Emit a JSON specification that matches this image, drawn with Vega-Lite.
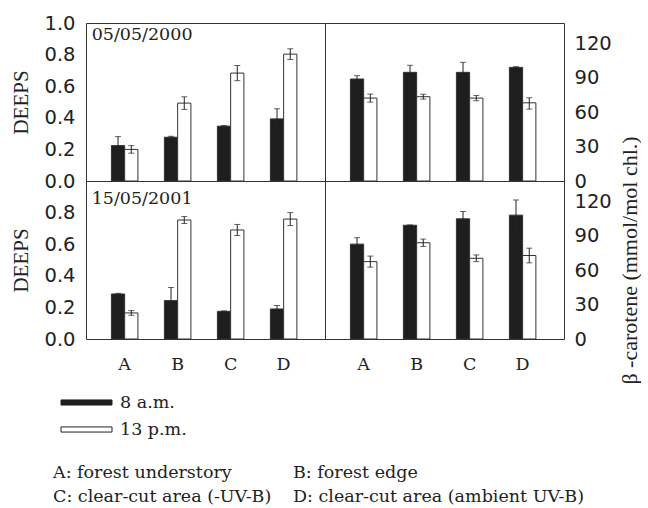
{
  "$schema": "https://vega.github.io/schema/vega-lite/v6.json",
  "padding": {"left": 10, "top": 12, "right": 0, "bottom": 0},
  "background": "white",
  "config": {
    "view": {"stroke": "#333", "strokeWidth": 1},
    "axis": {"grid": false, "domain": false, "ticks": false, "labelOverlap": false, "labelFont": "DejaVu Sans", "labelFontSize": 19.5, "labelColor": "#222", "titleFont": "Liberation Serif", "titleFontSize": 21, "titleFontWeight": "normal", "titleColor": "#222"}
  },
  "datasets": {
    "d": [
      {"year": "2000", "measure": "DEEPS", "site": "A", "time": "8 a.m.", "value": 0.224, "lo": 0.167, "hi": 0.281},
      {"year": "2000", "measure": "DEEPS", "site": "A", "time": "13 p.m.", "value": 0.200, "lo": 0.176, "hi": 0.224},
      {"year": "2000", "measure": "DEEPS", "site": "B", "time": "8 a.m.", "value": 0.277, "lo": 0.271, "hi": 0.283},
      {"year": "2000", "measure": "DEEPS", "site": "B", "time": "13 p.m.", "value": 0.493, "lo": 0.453, "hi": 0.533},
      {"year": "2000", "measure": "DEEPS", "site": "C", "time": "8 a.m.", "value": 0.347, "lo": 0.343, "hi": 0.351},
      {"year": "2000", "measure": "DEEPS", "site": "C", "time": "13 p.m.", "value": 0.683, "lo": 0.635, "hi": 0.731},
      {"year": "2000", "measure": "DEEPS", "site": "D", "time": "8 a.m.", "value": 0.393, "lo": 0.329, "hi": 0.457},
      {"year": "2000", "measure": "DEEPS", "site": "D", "time": "13 p.m.", "value": 0.803, "lo": 0.769, "hi": 0.837},
      {"year": "2000", "measure": "carotene", "site": "A", "time": "8 a.m.", "value": 88.7, "lo": 85.8, "hi": 91.6},
      {"year": "2000", "measure": "carotene", "site": "A", "time": "13 p.m.", "value": 72.1, "lo": 68.6, "hi": 75.6},
      {"year": "2000", "measure": "carotene", "site": "B", "time": "8 a.m.", "value": 94.5, "lo": 88.4, "hi": 100.6},
      {"year": "2000", "measure": "carotene", "site": "B", "time": "13 p.m.", "value": 73.3, "lo": 71.2, "hi": 75.4},
      {"year": "2000", "measure": "carotene", "site": "C", "time": "8 a.m.", "value": 94.5, "lo": 85.8, "hi": 103.2},
      {"year": "2000", "measure": "carotene", "site": "C", "time": "13 p.m.", "value": 72.1, "lo": 69.8, "hi": 74.4},
      {"year": "2000", "measure": "carotene", "site": "D", "time": "8 a.m.", "value": 98.8, "lo": 98.2, "hi": 99.4},
      {"year": "2000", "measure": "carotene", "site": "D", "time": "13 p.m.", "value": 68.0, "lo": 62.5, "hi": 72.4},
      {"year": "2001", "measure": "DEEPS", "site": "A", "time": "8 a.m.", "value": 0.285, "lo": 0.281, "hi": 0.289},
      {"year": "2001", "measure": "DEEPS", "site": "A", "time": "13 p.m.", "value": 0.165, "lo": 0.150, "hi": 0.180},
      {"year": "2001", "measure": "DEEPS", "site": "B", "time": "8 a.m.", "value": 0.243, "lo": 0.160, "hi": 0.326},
      {"year": "2001", "measure": "DEEPS", "site": "B", "time": "13 p.m.", "value": 0.753, "lo": 0.731, "hi": 0.775},
      {"year": "2001", "measure": "DEEPS", "site": "C", "time": "8 a.m.", "value": 0.175, "lo": 0.172, "hi": 0.178},
      {"year": "2001", "measure": "DEEPS", "site": "C", "time": "13 p.m.", "value": 0.690, "lo": 0.655, "hi": 0.725},
      {"year": "2001", "measure": "DEEPS", "site": "D", "time": "8 a.m.", "value": 0.190, "lo": 0.168, "hi": 0.212},
      {"year": "2001", "measure": "DEEPS", "site": "D", "time": "13 p.m.", "value": 0.759, "lo": 0.718, "hi": 0.800},
      {"year": "2001", "measure": "carotene", "site": "A", "time": "8 a.m.", "value": 82.5, "lo": 76.9, "hi": 88.1},
      {"year": "2001", "measure": "carotene", "site": "A", "time": "13 p.m.", "value": 67.3, "lo": 62.5, "hi": 72.1},
      {"year": "2001", "measure": "carotene", "site": "B", "time": "8 a.m.", "value": 98.9, "lo": 98.6, "hi": 99.2},
      {"year": "2001", "measure": "carotene", "site": "B", "time": "13 p.m.", "value": 83.7, "lo": 80.5, "hi": 86.9},
      {"year": "2001", "measure": "carotene", "site": "C", "time": "8 a.m.", "value": 104.5, "lo": 98.1, "hi": 110.9},
      {"year": "2001", "measure": "carotene", "site": "C", "time": "13 p.m.", "value": 70.2, "lo": 67.3, "hi": 73.1},
      {"year": "2001", "measure": "carotene", "site": "D", "time": "8 a.m.", "value": 107.7, "lo": 94.5, "hi": 120.9},
      {"year": "2001", "measure": "carotene", "site": "D", "time": "13 p.m.", "value": 72.6, "lo": 66.2, "hi": 79.0}
    ],
    "notes": [
      {"line": 1, "col": 1, "text": "A: forest understory"},
      {"line": 1, "col": 2, "text": "B: forest edge"},
      {"line": 2, "col": 1, "text": "C: clear-cut area (-UV-B)"},
      {"line": 2, "col": 2, "text": "D: clear-cut area (ambient UV-B)"}
    ]
  },
  "columns": 2,
  "spacing": {"row": 0, "column": 0},
  "bounds": "flush",
  "concat": [
    {
      "width": 239, "height": 158,
      "layer": [
        {"data": {"name": "d"}, "transform": [{"filter": "datum.year == '2000' && datum.measure == 'DEEPS'"}],
         "mark": {"type": "bar", "stroke": "#333", "strokeWidth": 1},
         "encoding": {
           "x": {"field": "site", "type": "nominal", "scale": {"domain": ["A","B","C","D"], "paddingInner": 0, "paddingOuter": 0.255, "align": 0.45}, "axis": null},
           "xOffset": {"field": "time", "type": "nominal", "scale": {"domain": ["8 a.m.","13 p.m."], "paddingInner": 0, "paddingOuter": 1.65}},
           "y": {"field": "value", "type": "quantitative", "scale": {"domain": [0, 1], "nice": false}, "axis": {"title": "DEEPS", "values": [0, 0.2, 0.4, 0.6, 0.8, 1], "tickCount": 20, "format": ".1f", "labelPadding": 11, "titlePadding": 12}},
           "color": {"field": "time", "type": "nominal", "scale": {"domain": ["8 a.m.","13 p.m."], "range": ["#1e1e1e", "#ffffff"]},
             "legend": {"orient": "none", "legendX": -13, "legendY": 366, "title": null, "direction": "vertical", "symbolType": "M-2,-0.2H2V0.2H-2Z", "symbolSize": 650, "symbolStrokeColor": "#222", "symbolStrokeWidth": 1, "labelFont": "DejaVu Serif", "labelFontSize": 17.5, "labelColor": "#222", "labelOffset": 20, "rowPadding": 5, "padding": 0}}
         }},
        {"data": {"name": "d"}, "transform": [{"filter": "datum.year == '2000' && datum.measure == 'DEEPS'"}],
         "mark": {"type": "rule", "color": "#222", "strokeWidth": 1},
         "encoding": {
           "x": {"field": "site", "type": "nominal", "scale": {"domain": ["A","B","C","D"], "paddingInner": 0, "paddingOuter": 0.255, "align": 0.45}, "axis": null},
           "xOffset": {"field": "time", "type": "nominal", "scale": {"domain": ["8 a.m.","13 p.m."], "paddingInner": 0, "paddingOuter": 1.65}},
           "y": {"field": "lo", "type": "quantitative", "scale": {"domain": [0, 1], "nice": false}},
           "y2": {"field": "hi"}
         }},
        {"data": {"name": "d"}, "transform": [{"filter": "datum.year == '2000' && datum.measure == 'DEEPS'"}],
         "mark": {"type": "tick", "color": "#222", "size": 6, "thickness": 1},
         "encoding": {
           "x": {"field": "site", "type": "nominal", "scale": {"domain": ["A","B","C","D"], "paddingInner": 0, "paddingOuter": 0.255, "align": 0.45}, "axis": null},
           "xOffset": {"field": "time", "type": "nominal", "scale": {"domain": ["8 a.m.","13 p.m."], "paddingInner": 0, "paddingOuter": 1.65}},
           "y": {"field": "lo", "type": "quantitative", "scale": {"domain": [0, 1], "nice": false}}
         }},
        {"data": {"name": "d"}, "transform": [{"filter": "datum.year == '2000' && datum.measure == 'DEEPS'"}],
         "mark": {"type": "tick", "color": "#222", "size": 6, "thickness": 1},
         "encoding": {
           "x": {"field": "site", "type": "nominal", "scale": {"domain": ["A","B","C","D"], "paddingInner": 0, "paddingOuter": 0.255, "align": 0.45}, "axis": null},
           "xOffset": {"field": "time", "type": "nominal", "scale": {"domain": ["8 a.m.","13 p.m."], "paddingInner": 0, "paddingOuter": 1.65}},
           "y": {"field": "hi", "type": "quantitative", "scale": {"domain": [0, 1], "nice": false}}
         }},
        {"data": {"values": [{"label": "05/05/2000"}]},
         "mark": {"type": "text", "font": "DejaVu Serif", "fontSize": 17.5, "align": "left", "baseline": "middle", "dx": -33, "color": "#222"},
         "encoding": {
           "x": {"datum": "A", "type": "nominal", "scale": {"domain": ["A","B","C","D"], "paddingInner": 0, "paddingOuter": 0.255, "align": 0.45}, "axis": null},
           "y": {"datum": 0.924, "type": "quantitative", "scale": {"domain": [0, 1], "nice": false}},
           "text": {"field": "label", "type": "nominal"}
         }}
      ]
    },
    {
      "width": 239, "height": 158,
      "layer": [
        {"data": {"name": "d"}, "transform": [{"filter": "datum.year == '2000' && datum.measure == 'carotene'"}],
         "mark": {"type": "bar", "stroke": "#333", "strokeWidth": 1},
         "encoding": {
           "x": {"field": "site", "type": "nominal", "scale": {"domain": ["A","B","C","D"], "paddingInner": 0, "paddingOuter": 0.255, "align": 0.45}, "axis": null},
           "xOffset": {"field": "time", "type": "nominal", "scale": {"domain": ["8 a.m.","13 p.m."], "paddingInner": 0, "paddingOuter": 1.65}},
           "y": {"field": "value", "type": "quantitative", "scale": {"domain": [0, 137.4], "nice": false}, "axis": {"orient": "right", "title": null, "values": [0, 30, 60, 90, 120], "tickCount": 20, "labelPadding": 10}},
           "color": {"field": "time", "type": "nominal", "scale": {"domain": ["8 a.m.","13 p.m."], "range": ["#1e1e1e", "#ffffff"]},
             "legend": {"orient": "none", "legendX": -13, "legendY": 366, "title": null, "direction": "vertical", "symbolType": "M-2,-0.2H2V0.2H-2Z", "symbolSize": 650, "symbolStrokeColor": "#222", "symbolStrokeWidth": 1, "labelFont": "DejaVu Serif", "labelFontSize": 17.5, "labelColor": "#222", "labelOffset": 20, "rowPadding": 5, "padding": 0}}
         }},
        {"data": {"name": "d"}, "transform": [{"filter": "datum.year == '2000' && datum.measure == 'carotene'"}],
         "mark": {"type": "rule", "color": "#222", "strokeWidth": 1},
         "encoding": {
           "x": {"field": "site", "type": "nominal", "scale": {"domain": ["A","B","C","D"], "paddingInner": 0, "paddingOuter": 0.255, "align": 0.45}, "axis": null},
           "xOffset": {"field": "time", "type": "nominal", "scale": {"domain": ["8 a.m.","13 p.m."], "paddingInner": 0, "paddingOuter": 1.65}},
           "y": {"field": "lo", "type": "quantitative", "scale": {"domain": [0, 137.4], "nice": false}},
           "y2": {"field": "hi"}
         }},
        {"data": {"name": "d"}, "transform": [{"filter": "datum.year == '2000' && datum.measure == 'carotene'"}],
         "mark": {"type": "tick", "color": "#222", "size": 6, "thickness": 1},
         "encoding": {
           "x": {"field": "site", "type": "nominal", "scale": {"domain": ["A","B","C","D"], "paddingInner": 0, "paddingOuter": 0.255, "align": 0.45}, "axis": null},
           "xOffset": {"field": "time", "type": "nominal", "scale": {"domain": ["8 a.m.","13 p.m."], "paddingInner": 0, "paddingOuter": 1.65}},
           "y": {"field": "lo", "type": "quantitative", "scale": {"domain": [0, 137.4], "nice": false}}
         }},
        {"data": {"name": "d"}, "transform": [{"filter": "datum.year == '2000' && datum.measure == 'carotene'"}],
         "mark": {"type": "tick", "color": "#222", "size": 6, "thickness": 1},
         "encoding": {
           "x": {"field": "site", "type": "nominal", "scale": {"domain": ["A","B","C","D"], "paddingInner": 0, "paddingOuter": 0.255, "align": 0.45}, "axis": null},
           "xOffset": {"field": "time", "type": "nominal", "scale": {"domain": ["8 a.m.","13 p.m."], "paddingInner": 0, "paddingOuter": 1.65}},
           "y": {"field": "hi", "type": "quantitative", "scale": {"domain": [0, 137.4], "nice": false}}
         }}
      ]
    },
    {
      "width": 239, "height": 158,
      "layer": [
        {"data": {"name": "d"}, "transform": [{"filter": "datum.year == '2001' && datum.measure == 'DEEPS'"}],
         "mark": {"type": "bar", "stroke": "#333", "strokeWidth": 1},
         "encoding": {
           "x": {"field": "site", "type": "nominal", "scale": {"domain": ["A","B","C","D"], "paddingInner": 0, "paddingOuter": 0.255, "align": 0.45}, "axis": {"title": null, "labelAngle": 0, "labelFont": "DejaVu Serif", "labelFontSize": 17.5, "labelPadding": 16}},
           "xOffset": {"field": "time", "type": "nominal", "scale": {"domain": ["8 a.m.","13 p.m."], "paddingInner": 0, "paddingOuter": 1.65}},
           "y": {"field": "value", "type": "quantitative", "scale": {"domain": [0, 1], "nice": false}, "axis": {"title": "DEEPS", "values": [0, 0.2, 0.4, 0.6, 0.8], "tickCount": 20, "format": ".1f", "labelPadding": 11, "titlePadding": 12}},
           "color": {"field": "time", "type": "nominal", "scale": {"domain": ["8 a.m.","13 p.m."], "range": ["#1e1e1e", "#ffffff"]},
             "legend": {"orient": "none", "legendX": -13, "legendY": 366, "title": null, "direction": "vertical", "symbolType": "M-2,-0.2H2V0.2H-2Z", "symbolSize": 650, "symbolStrokeColor": "#222", "symbolStrokeWidth": 1, "labelFont": "DejaVu Serif", "labelFontSize": 17.5, "labelColor": "#222", "labelOffset": 20, "rowPadding": 5, "padding": 0}}
         }},
        {"data": {"name": "d"}, "transform": [{"filter": "datum.year == '2001' && datum.measure == 'DEEPS'"}],
         "mark": {"type": "rule", "color": "#222", "strokeWidth": 1},
         "encoding": {
           "x": {"field": "site", "type": "nominal", "scale": {"domain": ["A","B","C","D"], "paddingInner": 0, "paddingOuter": 0.255, "align": 0.45}},
           "xOffset": {"field": "time", "type": "nominal", "scale": {"domain": ["8 a.m.","13 p.m."], "paddingInner": 0, "paddingOuter": 1.65}},
           "y": {"field": "lo", "type": "quantitative", "scale": {"domain": [0, 1], "nice": false}},
           "y2": {"field": "hi"}
         }},
        {"data": {"name": "d"}, "transform": [{"filter": "datum.year == '2001' && datum.measure == 'DEEPS'"}],
         "mark": {"type": "tick", "color": "#222", "size": 6, "thickness": 1},
         "encoding": {
           "x": {"field": "site", "type": "nominal", "scale": {"domain": ["A","B","C","D"], "paddingInner": 0, "paddingOuter": 0.255, "align": 0.45}},
           "xOffset": {"field": "time", "type": "nominal", "scale": {"domain": ["8 a.m.","13 p.m."], "paddingInner": 0, "paddingOuter": 1.65}},
           "y": {"field": "lo", "type": "quantitative", "scale": {"domain": [0, 1], "nice": false}}
         }},
        {"data": {"name": "d"}, "transform": [{"filter": "datum.year == '2001' && datum.measure == 'DEEPS'"}],
         "mark": {"type": "tick", "color": "#222", "size": 6, "thickness": 1},
         "encoding": {
           "x": {"field": "site", "type": "nominal", "scale": {"domain": ["A","B","C","D"], "paddingInner": 0, "paddingOuter": 0.255, "align": 0.45}},
           "xOffset": {"field": "time", "type": "nominal", "scale": {"domain": ["8 a.m.","13 p.m."], "paddingInner": 0, "paddingOuter": 1.65}},
           "y": {"field": "hi", "type": "quantitative", "scale": {"domain": [0, 1], "nice": false}}
         }},
        {"data": {"values": [{"label": "15/05/2001"}]},
         "mark": {"type": "text", "font": "DejaVu Serif", "fontSize": 17.5, "align": "left", "baseline": "middle", "dx": -33, "color": "#222"},
         "encoding": {
           "x": {"datum": "A", "type": "nominal", "scale": {"domain": ["A","B","C","D"], "paddingInner": 0, "paddingOuter": 0.255, "align": 0.45}},
           "y": {"datum": 0.883, "type": "quantitative", "scale": {"domain": [0, 1], "nice": false}},
           "text": {"field": "label", "type": "nominal"}
         }}
      ]
    },
    {
      "width": 239, "height": 158,
      "layer": [
        {"data": {"name": "d"}, "transform": [{"filter": "datum.year == '2001' && datum.measure == 'carotene'"}],
         "mark": {"type": "bar", "stroke": "#333", "strokeWidth": 1},
         "encoding": {
           "x": {"field": "site", "type": "nominal", "scale": {"domain": ["A","B","C","D"], "paddingInner": 0, "paddingOuter": 0.255, "align": 0.45}, "axis": {"title": null, "labelAngle": 0, "labelFont": "DejaVu Serif", "labelFontSize": 17.5, "labelPadding": 16}},
           "xOffset": {"field": "time", "type": "nominal", "scale": {"domain": ["8 a.m.","13 p.m."], "paddingInner": 0, "paddingOuter": 1.65}},
           "y": {"field": "value", "type": "quantitative", "scale": {"domain": [0, 137.4], "nice": false}, "axis": {"orient": "right", "title": "β -carotene (mmol/mol chl.)", "titleAngle": 270, "titleFontSize": 22, "values": [0, 30, 60, 90, 120], "tickCount": 20, "labelPadding": 10, "titlePadding": 30}},
           "color": {"field": "time", "type": "nominal", "scale": {"domain": ["8 a.m.","13 p.m."], "range": ["#1e1e1e", "#ffffff"]},
             "legend": {"orient": "none", "legendX": -13, "legendY": 366, "title": null, "direction": "vertical", "symbolType": "M-2,-0.2H2V0.2H-2Z", "symbolSize": 650, "symbolStrokeColor": "#222", "symbolStrokeWidth": 1, "labelFont": "DejaVu Serif", "labelFontSize": 17.5, "labelColor": "#222", "labelOffset": 20, "rowPadding": 5, "padding": 0}}
         }},
        {"data": {"name": "d"}, "transform": [{"filter": "datum.year == '2001' && datum.measure == 'carotene'"}],
         "mark": {"type": "rule", "color": "#222", "strokeWidth": 1},
         "encoding": {
           "x": {"field": "site", "type": "nominal", "scale": {"domain": ["A","B","C","D"], "paddingInner": 0, "paddingOuter": 0.255, "align": 0.45}},
           "xOffset": {"field": "time", "type": "nominal", "scale": {"domain": ["8 a.m.","13 p.m."], "paddingInner": 0, "paddingOuter": 1.65}},
           "y": {"field": "lo", "type": "quantitative", "scale": {"domain": [0, 137.4], "nice": false}},
           "y2": {"field": "hi"}
         }},
        {"data": {"name": "d"}, "transform": [{"filter": "datum.year == '2001' && datum.measure == 'carotene'"}],
         "mark": {"type": "tick", "color": "#222", "size": 6, "thickness": 1},
         "encoding": {
           "x": {"field": "site", "type": "nominal", "scale": {"domain": ["A","B","C","D"], "paddingInner": 0, "paddingOuter": 0.255, "align": 0.45}},
           "xOffset": {"field": "time", "type": "nominal", "scale": {"domain": ["8 a.m.","13 p.m."], "paddingInner": 0, "paddingOuter": 1.65}},
           "y": {"field": "lo", "type": "quantitative", "scale": {"domain": [0, 137.4], "nice": false}}
         }},
        {"data": {"name": "d"}, "transform": [{"filter": "datum.year == '2001' && datum.measure == 'carotene'"}],
         "mark": {"type": "tick", "color": "#222", "size": 6, "thickness": 1},
         "encoding": {
           "x": {"field": "site", "type": "nominal", "scale": {"domain": ["A","B","C","D"], "paddingInner": 0, "paddingOuter": 0.255, "align": 0.45}},
           "xOffset": {"field": "time", "type": "nominal", "scale": {"domain": ["8 a.m.","13 p.m."], "paddingInner": 0, "paddingOuter": 1.65}},
           "y": {"field": "hi", "type": "quantitative", "scale": {"domain": [0, 137.4], "nice": false}}
         }}
      ]
    },
    {
      "width": 239, "height": 158,
      "view": {"stroke": null},
      "data": {"name": "notes"},
      "mark": {"type": "text", "font": "DejaVu Serif", "fontSize": 17.5, "align": "left", "baseline": "middle", "dx": -33, "color": "#222"},
      "encoding": {
        "x": {"field": "col", "type": "ordinal", "scale": {"type": "point", "domain": [1, 2], "range": [0, 240], "padding": 0}, "axis": null},
        "y": {"field": "line", "type": "ordinal", "scale": {"type": "point", "domain": [1, 2], "range": [134, 158], "padding": 0}, "axis": null},
        "text": {"field": "text", "type": "nominal"}
      }
    }
  ]
}
